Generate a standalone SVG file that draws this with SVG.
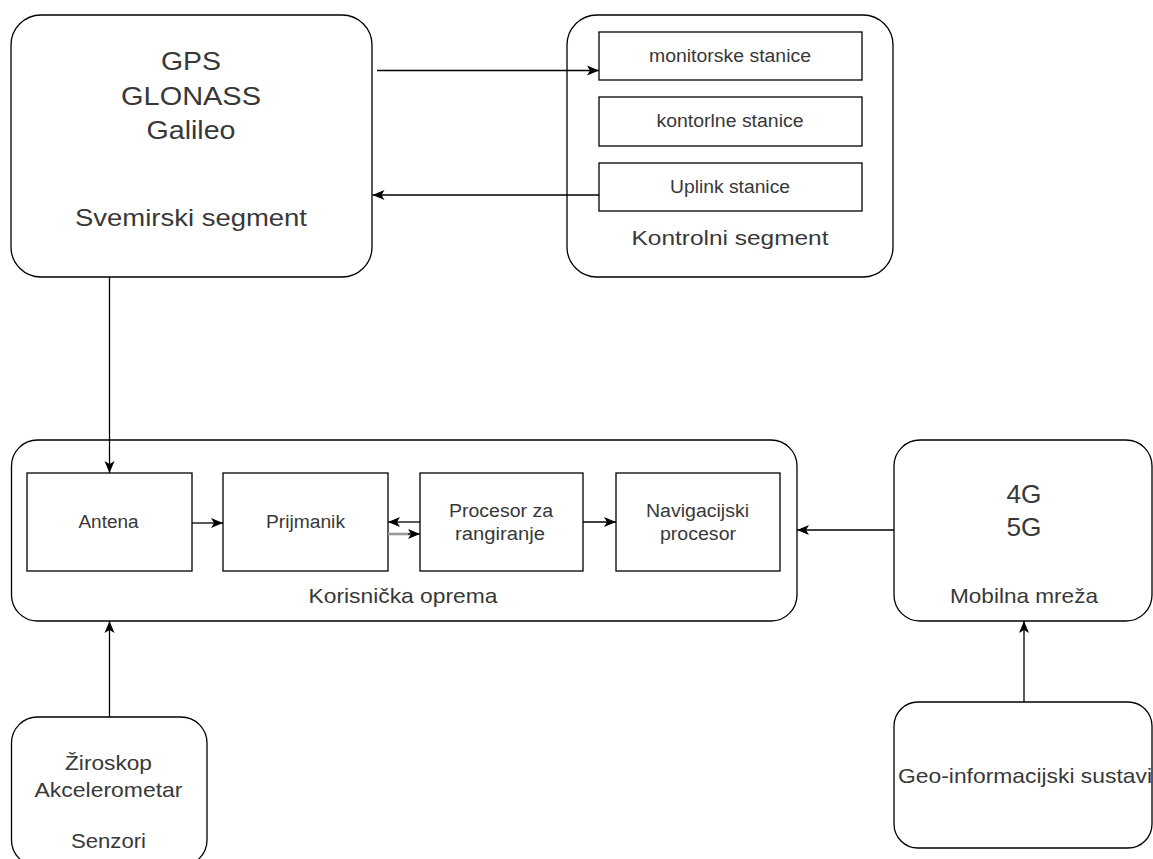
<svg xmlns="http://www.w3.org/2000/svg" width="1153" height="859" viewBox="0 0 1153 859">
<style>
.box{fill:#fff;stroke:#000;stroke-width:1.3}
.t{font-family:"Liberation Sans",Arial,Helvetica,sans-serif;fill:#383838;text-anchor:middle}
.big{font-size:25px}
.mid{font-size:21px}
.sm{font-size:18px}
.c{fill:none;stroke:#000;stroke-width:1.3}
.g{fill:none;stroke:#999;stroke-width:2.6}
</style>
<defs>
<marker id="ah" markerWidth="13" markerHeight="11" refX="12" refY="5.5" orient="auto" markerUnits="userSpaceOnUse">
<path d="M0,0.5 L12,5.5 L0,10.5 L3,5.5 Z" fill="#000"/>
</marker>
</defs>
<rect width="1153" height="859" fill="#fff"/>
<g id="svemirski">
<rect class="box" x="11" y="15" width="361" height="262" rx="30"/>
<text class="t big" x="191" y="70" textLength="60" lengthAdjust="spacingAndGlyphs">GPS</text>
<text class="t big" x="191" y="105" textLength="140" lengthAdjust="spacingAndGlyphs">GLONASS</text>
<text class="t big" x="191" y="139" textLength="89" lengthAdjust="spacingAndGlyphs">Galileo</text>
<text class="t" x="191" y="226" textLength="232" lengthAdjust="spacingAndGlyphs" style="font-size:24px">Svemirski segment</text>
</g>
<g id="kontrolni">
<rect class="box" x="567" y="15" width="326" height="262" rx="30"/>
<text class="t mid" x="730" y="245" textLength="197" lengthAdjust="spacingAndGlyphs">Kontrolni segment</text>
</g>
<g id="monitorske">
<rect class="box" x="599" y="32" width="263" height="48"/>
<text class="t sm" x="730" y="62" textLength="162" lengthAdjust="spacingAndGlyphs">monitorske stanice</text>
</g>
<g id="kontorlne">
<rect class="box" x="599" y="97" width="263" height="49"/>
<text class="t sm" x="730" y="127" textLength="147" lengthAdjust="spacingAndGlyphs">kontorlne stanice</text>
</g>
<g id="uplink">
<rect class="box" x="599" y="163" width="263" height="48"/>
<text class="t sm" x="730" y="193" textLength="120" lengthAdjust="spacingAndGlyphs">Uplink stanice</text>
</g>
<g id="korisnicka">
<rect class="box" x="11.5" y="440" width="785.5" height="181" rx="26"/>
<text class="t mid" x="403" y="603" textLength="189" lengthAdjust="spacingAndGlyphs">Korisnička oprema</text>
</g>
<g id="antena">
<rect class="box" x="27" y="473" width="165" height="98"/>
<text class="t sm" x="108.5" y="528" textLength="60" lengthAdjust="spacingAndGlyphs">Antena</text>
</g>
<g id="prijmanik">
<rect class="box" x="223" y="473" width="165" height="98"/>
<text class="t sm" x="305.5" y="528" textLength="79" lengthAdjust="spacingAndGlyphs">Prijmanik</text>
</g>
<g id="procesor">
<rect class="box" x="420" y="473" width="163" height="98"/>
<text class="t sm" x="501" y="517" textLength="104" lengthAdjust="spacingAndGlyphs">Procesor za</text>
<text class="t sm" x="500" y="540" textLength="90" lengthAdjust="spacingAndGlyphs">rangiranje</text>
</g>
<g id="navigacijski">
<rect class="box" x="616" y="473" width="164" height="98"/>
<text class="t sm" x="697.5" y="517" textLength="103" lengthAdjust="spacingAndGlyphs">Navigacijski</text>
<text class="t sm" x="698" y="540" textLength="76" lengthAdjust="spacingAndGlyphs">procesor</text>
</g>
<g id="mobilna">
<rect class="box" x="894" y="440" width="258" height="181" rx="26"/>
<text class="t big" x="1024" y="503" textLength="35" lengthAdjust="spacingAndGlyphs">4G</text>
<text class="t big" x="1024" y="536" textLength="35" lengthAdjust="spacingAndGlyphs">5G</text>
<text class="t mid" x="1024" y="603" textLength="148" lengthAdjust="spacingAndGlyphs">Mobilna mreža</text>
</g>
<g id="geo">
<rect class="box" x="894" y="702" width="258" height="146" rx="24"/>
<text class="t mid" x="1025" y="783" textLength="254" lengthAdjust="spacingAndGlyphs">Geo-informacijski sustavi</text>
</g>
<g id="senzori">
<rect class="box" x="11.5" y="717" width="195.5" height="149" rx="26"/>
<text class="t mid" x="108.5" y="770" textLength="87" lengthAdjust="spacingAndGlyphs">Žiroskop</text>
<text class="t mid" x="108.5" y="797" textLength="148" lengthAdjust="spacingAndGlyphs">Akcelerometar</text>
<text class="t mid" x="108.5" y="848" textLength="75" lengthAdjust="spacingAndGlyphs">Senzori</text>
</g>
<g id="connectors">
<line class="c" x1="377" y1="70.5" x2="599" y2="70.5" marker-end="url(#ah)"/>
<line class="c" x1="599" y1="195" x2="372.5" y2="195" marker-end="url(#ah)"/>
<line class="c" x1="109.5" y1="277" x2="109.5" y2="473" marker-end="url(#ah)"/>
<line class="c" x1="192" y1="523" x2="223" y2="523" marker-end="url(#ah)"/>
<line class="c" x1="420" y1="522" x2="388" y2="522" marker-end="url(#ah)"/>
<line class="g" x1="388" y1="534" x2="410" y2="534"/>
<line class="c" x1="408" y1="534" x2="420" y2="534" marker-end="url(#ah)"/>
<line class="c" x1="583" y1="522" x2="616" y2="522" marker-end="url(#ah)"/>
<line class="c" x1="894" y1="530" x2="797" y2="530" marker-end="url(#ah)"/>
<line class="c" x1="1024" y1="702" x2="1024" y2="621" marker-end="url(#ah)"/>
<line class="c" x1="109.5" y1="717" x2="109.5" y2="621" marker-end="url(#ah)"/>
</g>
</svg>
